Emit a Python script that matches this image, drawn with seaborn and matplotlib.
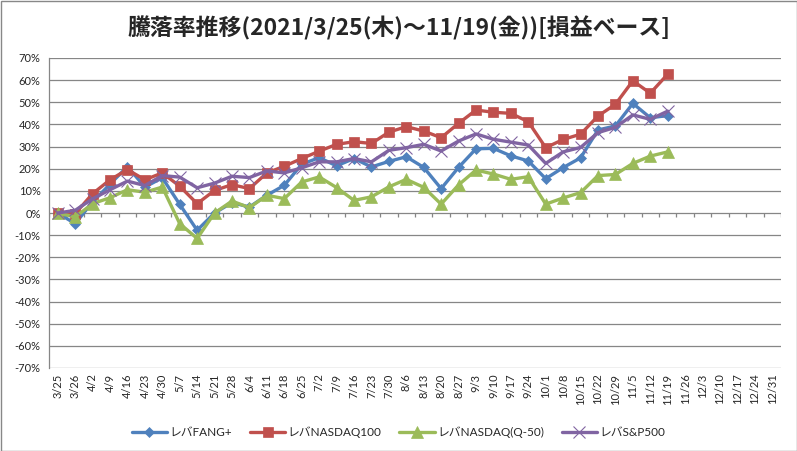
import matplotlib
matplotlib.use("Agg")
import matplotlib.pyplot as plt
import numpy as np
import pandas as pd
import seaborn as sns
from matplotlib.patches import Rectangle
from matplotlib.ticker import FuncFormatter

# weekly dates on the category axis
dates = ['3/25', '3/26', '4/2', '4/9', '4/16', '4/23', '4/30', '5/7', '5/14', '5/21',
         '5/28', '6/4', '6/11', '6/18', '6/25', '7/2', '7/9', '7/16', '7/23', '7/30',
         '8/6', '8/13', '8/20', '8/27', '9/3', '9/10', '9/17', '9/24', '10/1', '10/8',
         '10/15', '10/22', '10/29', '11/5', '11/12', '11/19', '11/26', '12/3', '12/10',
         '12/17', '12/24', '12/31']

# values in % (3/25 .. 11/19)
fang = [0, -4.8, 5, 13, 21, 11.7, 15.9, 3.9, -7.8, 0,
        4.7, 2.7, 8, 12.5, 22, 25, 21.3, 24.6, 20.8, 23.3,
        25.4, 20.6, 11, 20.6, 29, 29.2, 25.8, 23.5, 15.5, 20.5,
        24.9, 37.5, 39.3, 49.5, 43, 44]
nasdaq100 = [0, -0.3, 8.7, 15, 19.6, 15, 18.1, 12.1, 4.2, 10.2,
             12.8, 11, 18.1, 21.1, 24.6, 27.9, 31, 32.2, 31.4, 36.5,
             39, 37, 34, 40.5, 46.5, 45.5, 45, 41.2, 29.5, 33.2,
             35.6, 43.8, 49.1, 59.7, 54.1, 62.7]
q50 = [0, -1.8, 4.2, 6.9, 10.5, 9.4, 11.7, -4.8, -11.5, 0,
       5.4, 2.4, 8, 6.5, 14, 16.3, 11.5, 5.7, 7.3, 11.8,
       15.2, 11.6, 4, 12.7, 19.4, 17.6, 15.2, 16.4, 4, 6.8,
       9.2, 16.9, 17.4, 22.4, 25.7, 27.6]
sp500 = [0, 1.2, 6.4, 10.5, 14.4, 12.4, 16.9, 16.2, 11.4, 13.5,
         16.6, 16, 19, 18.1, 20.4, 23.1, 23.1, 24.6, 23.1, 28.3,
         29.5, 31, 28, 32.5, 35.7, 33.3, 32, 30.7, 22.4, 27.6,
         29.6, 36.3, 38.7, 44.3, 42.3, 46]

series_names = ['レバFANG+', 'レバNASDAQ100', 'レバNASDAQ(Q-50)', 'レバS&P500']
series_values = [fang, nasdaq100, q50, sp500]
colors = ['#4F81BD', '#C0504D', '#9BBB59', '#8064A2']
markers = ['D', 's', '^', 'x']
msizes = [5.5, 7.5, 8.5, 8]

title = '騰落率推移(2021/3/25(木)～11/19(金))[損益ベース]'

sns.set_style('white')
plt.rcParams['font.family'] = ['Lato', 'Noto Sans CJK JP', 'DejaVu Sans']

fig = plt.figure(figsize=(7.97, 4.51), dpi=100)
ax = fig.add_axes([49 / 797, 1 - 368 / 451, (781 - 49) / 797, (368 - 58) / 451])

grid_c = '#868686'
for name, vals, c, m, ms in zip(series_names, series_values, colors, markers, msizes):
    df = pd.DataFrame({'idx': np.arange(len(vals)), 'value': vals})
    sns.lineplot(data=df, x='idx', y='value', ax=ax, color=c, marker=m,
                 markersize=ms, markeredgecolor=c, markeredgewidth=0.8 if m == 'x' else 0.5,
                 linewidth=2.4, label=name, legend=False)

ax.set_xlim(-0.5, len(dates) - 0.5)
ax.set_ylim(-70, 70)
ax.set_yticks(np.arange(-70, 71, 10))
ax.yaxis.set_major_formatter(FuncFormatter(lambda v, p: f'{v:.0f}%'))
ax.set_xticks(np.arange(len(dates)))
ax.set_xticklabels(dates, rotation=90)
ax.set_xlabel('')
ax.set_ylabel('')

ax.grid(axis='y', color=grid_c, linewidth=0.9)
ax.set_axisbelow(True)
for s in ['top', 'right', 'bottom']:
    ax.spines[s].set_visible(False)
ax.spines['left'].set_color(grid_c)
ax.spines['left'].set_linewidth(0.9)
ax.tick_params(axis='y', length=4, color=grid_c, width=0.9, labelsize=8, pad=2)
ax.tick_params(axis='x', length=0, labelsize=8, pad=4)

# category tick marks on the 0% line
ax.vlines(np.arange(-0.5, len(dates), 1.0), -1.8, 0, color=grid_c, linewidth=0.9, zorder=1)

fig.text(0.5, 1 - 28 / 451, title, ha='center', va='center', fontsize=16.5,
         fontweight='bold', family=['Noto Sans CJK JP', 'DejaVu Sans'])

handles, labels = ax.get_legend_handles_labels()
fig.legend(handles, labels, loc='center', bbox_to_anchor=(0.5, 1 - 432 / 451), ncol=4,
           frameon=False, fontsize=8.5, handlelength=3.0, columnspacing=1.5,
           handletextpad=0.2)

fig.patches.append(Rectangle((0.5 / 797, 0.5 / 451), 1 - 1 / 797, 1 - 1 / 451,
                             transform=fig.transFigure, fill=False,
                             edgecolor='#888888', linewidth=1))

fig.savefig('out.png', dpi=100)
